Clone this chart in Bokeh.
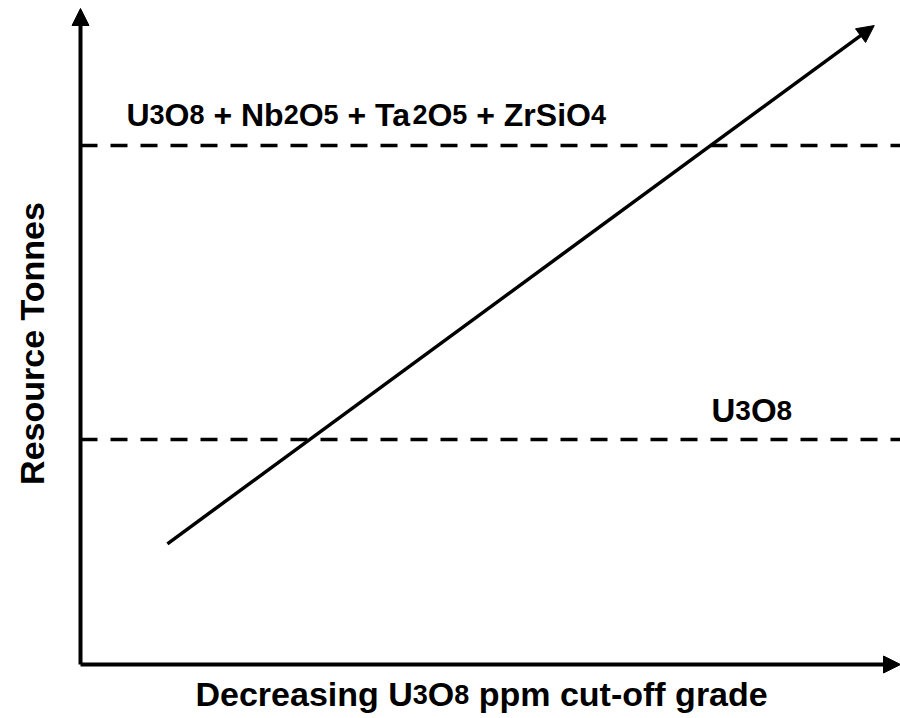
import math
from bokeh.plotting import figure
from bokeh.models import Range1d, Arrow, NormalHead, Label
from bokeh.embed import file_html
from bokeh.resources import INLINE

# ---- data (abstract units: axes run 0..100) ----
axis_x = [0, 100]
axis_y = [0, 100]
trend_x = [10.6, 96.8]
trend_y = [18.4, 97.4]
level_names = ["U3O8 + Nb2O5 + Ta2O5 + ZrSiO4", "U3O8"]
level_values = [79.1, 34.3]
x_label = "Decreasing U3O8 ppm cut-off grade"
y_label = "Resource Tonnes"

FONT = "Liberation Sans"
W, H = 900, 718
OFF = 0  # page offset of the figure
# screen geometry of the origin and axis tips (page pixels)
ORX, ORY = 80, 664
TIPX, TIPY = 900, 8
kx = (TIPX - ORX) / 100.0
ky = (ORY - TIPY) / 100.0
x0 = -(ORX - OFF) / kx
x1 = x0 + W / kx
y1 = 100 + (TIPY - OFF) / ky
y0 = y1 - H / ky
BASE_FIX = 0.33  # empirical shift of the alphabetic baseline (em)


def dx(sx):
    return x0 + (sx - OFF) / kx


def dy(sy):
    return y1 - (sy - OFF) / ky


p = figure(width=W, height=H, output_backend="svg", toolbar_location=None,
           x_range=Range1d(x0, x1), y_range=Range1d(y0, y1),
           min_border=0, min_border_left=0, min_border_right=0,
           min_border_top=0, min_border_bottom=0)
p.axis.visible = False
p.grid.visible = False
p.outline_line_color = None
p.background_fill_color = "white"
p.border_fill_color = "white"

# dashed levels
for v in level_values:
    p.line(x=[axis_x[0], axis_x[1]], y=[v, v], line_color="black",
           line_width=3.5, line_dash="17 13")

head = dict(size=17, fill_color="black", line_color="black", line_width=1)
# axes with arrows
p.add_layout(Arrow(end=NormalHead(**head),
                   x_start=axis_x[0], y_start=axis_y[0], x_end=axis_x[0], y_end=axis_y[1],
                   line_width=4, line_color="black"))
p.add_layout(Arrow(end=NormalHead(**head),
                   x_start=axis_x[0], y_start=axis_y[0], x_end=axis_x[1], y_end=axis_y[0],
                   line_width=4, line_color="black"))
# trend arrow
p.add_layout(Arrow(end=NormalHead(**head),
                   x_start=trend_x[0], y_start=trend_y[0], x_end=trend_x[1], y_end=trend_y[1],
                   line_width=3.5, line_color="black"))

# Arial/Liberation Sans Bold advance widths (per 1000 em)
ADV = {' ': 278, '+': 584, '-': 333, 'U': 722, 'O': 778, 'N': 722, 'T': 611, 'Z': 611,
       'S': 667, 'D': 722, 'R': 722, 'a': 556, 'b': 611, 'c': 556, 'd': 611, 'e': 556,
       'f': 333, 'g': 611, 'i': 278, 'm': 889, 'n': 611, 'o': 611, 'p': 611, 'r': 389,
       's': 556, 't': 333, 'u': 611}


def adv(s, size):
    return sum(ADV.get(c, 556) for c in s) / 1000.0 * size


def rich(text, sx, sy, big, small):
    """Draw text with digits in a smaller size on the same baseline."""
    x = sx
    pieces = []
    seg, seg_small = "", None
    for ch in text:
        is_small = ch.isdigit()
        if seg_small is None or is_small == seg_small:
            seg += ch
        else:
            pieces.append((seg, seg_small))
            seg = ch
        seg_small = is_small
    pieces.append((seg, seg_small))
    for s, sm in pieces:
        size = small if sm else big
        lead = len(s) - len(s.lstrip(" "))
        x += adv(s[:lead], size)
        core = s.strip(" ")
        if core:
            p.add_layout(Label(x=dx(x), y=dy(sy - BASE_FIX * big), text=core, text_font=FONT,
                               text_font_style="bold", text_font_size=f"{size}px",
                               text_color="black", text_align="left",
                               text_baseline="alphabetic"))
        x += adv(s[lead:], size)


rich(level_names[0], 126, 125, 32, 27)
rich(level_names[1], 711, 421, 33, 28)
rich(x_label, 195, 705, 34, 27)

p.add_layout(Label(x=dx(43 - BASE_FIX * 34), y=dy(343), text=y_label, text_font=FONT,
                   text_font_style="bold", text_font_size="34px", text_color="black",
                   text_align="center", text_baseline="alphabetic", angle=math.pi / 2))

open("out.html", "w").write(file_html(p, INLINE))
